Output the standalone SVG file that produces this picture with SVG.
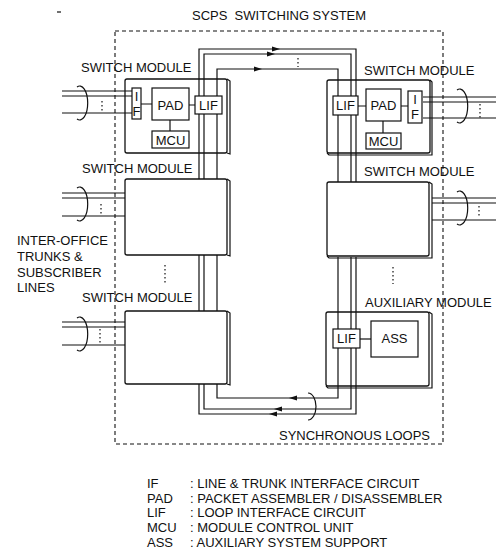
<svg xmlns="http://www.w3.org/2000/svg" width="496" height="553" viewBox="0 0 496 553">
<style>
text{font-family:"Liberation Sans",Arial,sans-serif;font-size:13px;fill:#111;}
.pre{white-space:pre;}
.c{text-anchor:middle;}
.ln{fill:none;stroke:#111;stroke-width:1.2;}
.mod{fill:#fff;stroke:#111;stroke-width:1.3;}
.box{fill:#fff;stroke:#111;stroke-width:1.2;}
.side{fill:none;stroke:#111;stroke-width:1.2;}
.dash{fill:none;stroke:#111;stroke-width:1.1;stroke-dasharray:4 3;}
.dot{fill:none;stroke:#111;stroke-width:1.2;stroke-dasharray:1.5 2.5;}
.arr{fill:#111;stroke:none;}
</style>
<rect width="496" height="553" fill="#fff"/>
<path d="M57,12 H61" class="ln" stroke-width="1"/>

<g id="system-boundary">
<rect x="115" y="31" width="328" height="413" class="dash"/>
<text x="192" y="20" class="pre">SCPS  SWITCHING SYSTEM</text>
</g>

<!-- module bodies -->
<g id="sm1">
<text x="81" y="72">SWITCH MODULE</text>
<path d="M227,79 L230,81 L230,154 L227,153" class="side"/>
<rect x="125" y="79" width="102" height="74" rx="2" class="mod"/>
</g>
<g id="sm2">
<text x="82" y="173">SWITCH MODULE</text>
<path d="M227,179 L230,181 L230,256 L227,255" class="side"/>
<rect x="125" y="179" width="102" height="76" rx="2" class="mod"/>
</g>
<g id="sm3">
<text x="82" y="302">SWITCH MODULE</text>
<path d="M227,311 L230,313 L230,385 L227,384" class="side"/>
<rect x="125" y="311" width="102" height="73" rx="2" class="mod"/>
</g>
<g id="sm4">
<text x="364" y="75">SWITCH MODULE</text>
<path d="M430,80 L432,82 L432,155 L329,155 L327,153" class="side"/>
<rect x="327" y="80" width="103" height="73" rx="2" class="mod"/>
</g>
<g id="sm5">
<text x="364" y="176">SWITCH MODULE</text>
<path d="M429,182 L432,184 L432,258 L329,258 L327,256" class="side"/>
<rect x="327" y="182" width="102" height="74" rx="2" class="mod"/>
</g>
<g id="aux">
<text x="365" y="307">AUXILIARY MODULE</text>
<path d="M429,312 L432,314 L432,388 L328,388 L326,386" class="side"/>
<rect x="326" y="312" width="103" height="74" rx="2" class="mod"/>
</g>

<!-- connectors -->
<g id="connectors">
<!-- synchronous loops -->
<path class="ln" d="M199,179 V49 H356 V182 M356,257 V414 H199 V384 M199,311 V255"/>
<path class="ln" d="M204,179 V54 H351 V182 M351,257 V409 H204 V384 M204,311 V255"/>
<path class="ln" d="M217,179 V69 H338 V182 M338,257 V398 H217 V384 M217,311 V255"/>
<polygon class="arr" points="280,49 272,46.5 272,51.5"/>
<polygon class="arr" points="275,54 267,51.5 267,56.5"/>
<polygon class="arr" points="262,69 254,66.5 254,71.5"/>
<polygon class="arr" points="289,398 297,395.5 297,400.5"/>
<polygon class="arr" points="274,409 282,406.5 282,411.5"/>
<polygon class="arr" points="269,414 277,411.5 277,416.5"/>
<path class="dot" d="M298,58 V67"/>
<path class="dot" d="M165,265 V283"/>
<path class="dot" d="M393,267 V284"/>
<path class="ln" d="M308,393 A8,13.5 0 1 1 308,420"/>
<!-- trunks left -->
<path class="ln" d="M62,91 H132 M62,96 H132 M62,113 H132"/>
<path class="dot" d="M102,101 V113"/>
<path class="ln" d="M77,87 A8,17 0 1 1 77,119"/>
<path class="ln" d="M62,193 H125 M62,198 H125 M62,216 H125"/>
<path class="dot" d="M101,204 V215"/>
<path class="ln" d="M77,188 A8,17 0 1 1 77,220"/>
<path class="ln" d="M62,322 H125 M62,327 H125 M62,345 H125"/>
<path class="dot" d="M100,329 V344"/>
<path class="ln" d="M77,318 A8,17 0 1 1 77,350"/>
<!-- trunks right -->
<path class="ln" d="M423,97 H496 M423,102 H496 M423,118 H496"/>
<path class="dot" d="M480,104 V118"/>
<path class="ln" d="M457,90 A8,17 0 1 1 457,122"/>
<path class="ln" d="M432,198 H496 M432,203 H496 M432,220 H496"/>
<path class="dot" d="M479,206 V218"/>
<path class="ln" d="M457,192 A8,17 0 1 1 457,224"/>
<!-- internal links -->
<path class="ln" d="M141,104 H152 M189,105 H195 M170,120 V131"/>
<path class="ln" d="M358,106 H366 M401,106 H408 M383,121 V133"/>
<path class="ln" d="M360,339 H371"/>
</g>

<!-- inner units -->
<g id="sm1-units">
<rect x="132" y="88" width="9" height="31" class="box"/>
<text x="136.5" y="101" class="c" font-size="12">I</text>
<text x="136.5" y="116" class="c" font-size="12">F</text>
<rect x="152" y="88" width="37" height="32" class="box"/>
<text x="170.5" y="110" class="c">PAD</text>
<rect x="152" y="131" width="37" height="17" class="box"/>
<text x="170.5" y="145" class="c">MCU</text>
<rect x="195" y="96" width="27" height="18" class="box"/>
<text x="208.5" y="110" class="c">LIF</text>
</g>
<g id="sm4-units">
<rect x="333" y="96" width="25" height="19" class="box"/>
<text x="345.5" y="110" class="c">LIF</text>
<rect x="366" y="89" width="35" height="32" class="box"/>
<text x="383.5" y="110" class="c">PAD</text>
<rect x="366" y="133" width="35" height="16" class="box"/>
<text x="383.5" y="146" class="c">MCU</text>
<rect x="408" y="91" width="14" height="32" class="box"/>
<text x="415" y="104" class="c" font-size="12">I</text>
<text x="415" y="119" class="c" font-size="12">F</text>
</g>
<g id="aux-units">
<rect x="333" y="329" width="27" height="19" class="box"/>
<text x="346.5" y="343" class="c">LIF</text>
<rect x="371" y="321" width="47" height="36" class="box"/>
<text x="394.5" y="343" class="c">ASS</text>
</g>

<g id="labels">
<text x="17" y="245">INTER-OFFICE</text>
<text x="17" y="261">TRUNKS &amp;</text>
<text x="17" y="277">SUBSCRIBER</text>
<text x="17" y="292">LINES</text>
<text x="279" y="440">SYNCHRONOUS LOOPS</text>
</g>

<g id="legend">
<text x="147" y="488">IF</text><text x="190" y="488">: LINE &amp; TRUNK INTERFACE CIRCUIT</text>
<text x="147" y="503">PAD</text><text x="190" y="503">: PACKET ASSEMBLER / DISASSEMBLER</text>
<text x="147" y="517">LIF</text><text x="190" y="517">: LOOP INTERFACE CIRCUIT</text>
<text x="147" y="532">MCU</text><text x="190" y="532">: MODULE CONTROL UNIT</text>
<text x="147" y="547">ASS</text><text x="190" y="547">: AUXILIARY SYSTEM SUPPORT</text>
</g>
</svg>
